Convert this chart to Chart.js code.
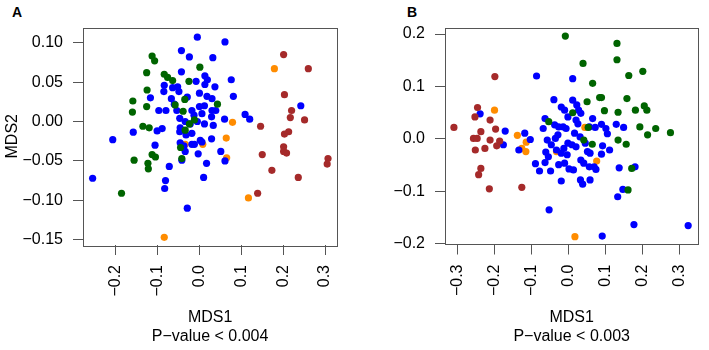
<!DOCTYPE html>
<html>
<head>
<meta charset="utf-8">
<script src="https://cdn.jsdelivr.net/npm/chart.js@4.4.1/dist/chart.umd.min.js"></script>
<style>
  body { margin: 0; background: #fff; width: 709px; height: 350px; position: relative; overflow: hidden;
         font-family: "Liberation Sans", Arial, sans-serif; }
  .panel { position: absolute; top: 0; }
  .tag { position: absolute; font-weight: bold; font-size: 14px; line-height: 14px; }
</style>
</head>
<body>
<div class="tag" style="left:12px;top:5px">A</div>
<div class="tag" style="left:407px;top:5px">B</div>
<canvas id="chartA" class="panel" style="left:0" width="355" height="350"></canvas>
<canvas id="chartB" class="panel" style="left:355px" width="354" height="350"></canvas>
<script>
// tick positions
const aTicksX = [-0.2, -0.1, 0, 0.1, 0.2, 0.3];
const aTicksY = [-0.15, -0.10, -0.05, 0, 0.05, 0.10];
const bTicksX = [-0.3, -0.2, -0.1, 0, 0.1, 0.2, 0.3];
const bTicksY = [-0.2, -0.1, 0, 0.1, 0.2];

// panel A points, [MDS1, MDS2]
const aBlue = [[-0.255,-0.072],[-0.207,-0.023],[-0.158,-0.0135],[-0.117,0.030],[-0.097,0.014],[-0.101,-0.012],
  [-0.089,-0.009],[-0.106,-0.030],[-0.072,-0.057],[-0.081,-0.075],[-0.083,-0.085],[-0.029,-0.110],[-0.005,0.107],
  [0.061,0.101],[-0.043,0.090],[-0.024,0.082],[0.032,0.081],[-0.043,0.063],[-0.084,0.046],[-0.085,0.038],
  [-0.064,0.043],[-0.052,0.044],[-0.049,0.038],[-0.067,0.029],[-0.060,0.022],[-0.080,0.014],[-0.054,0.014],
  [-0.008,0.051],[0.013,0.058],[0.019,0.053],[0.013,0.047],[0.000,0.036],[0.037,0.044],[0.018,0.032],
  [0.030,0.029],[0.076,0.053],[0.081,0.032],[-0.029,0.031],[-0.018,0.014],[0.000,0.019],[0.012,0.020],
  [-0.013,0.008],[0.006,0.010],[0.030,0.014],[0.039,0.014],[0.029,0.006],[-0.047,0.004],[-0.034,0.000],
  [-0.046,-0.008],[-0.022,-0.003],[-0.005,0.000],[0.012,-0.003],[0.033,-0.005],[-0.047,-0.013],[-0.032,-0.017],
  [-0.018,-0.015],[-0.046,-0.027],[-0.037,-0.031],[-0.018,-0.029],[-0.012,-0.029],[0.006,-0.026],[0.002,-0.024],
  [-0.034,-0.038],[-0.003,-0.041],[-0.042,-0.049],[0.029,-0.022],[0.017,-0.053],[0.010,-0.071],[0.051,-0.038],
  [0.061,-0.050],[0.060,0.003],[0.109,0.009],[0.120,0.003],[0.242,0.020]];
const aGreen = [[-0.113,0.083],[-0.107,0.077],[-0.126,0.062],[-0.125,0.040],[-0.126,0.019],[-0.159,0.026],
  [-0.160,0.012],[-0.135,-0.006],[-0.120,-0.008],[-0.084,0.060],[-0.076,0.056],[-0.064,0.052],[-0.025,0.051],
  [0.001,0.069],[-0.035,0.028],[-0.058,0.021],[-0.039,0.013],[0.043,0.022],[-0.012,0.002],[-0.024,-0.003],
  [-0.034,-0.011],[-0.045,-0.033],[-0.042,-0.047],[-0.113,-0.042],[-0.105,-0.045],[-0.156,-0.049],
  [-0.123,-0.053],[-0.122,-0.060],[-0.186,-0.091]];
const aOrange = [[0.179,0.067],[0.079,-0.001],[0.064,-0.021],[0.065,-0.046],[0.117,-0.097],[-0.084,-0.147],
  [-0.034,-0.029],[0.008,-0.029]];
const aRed = [[0.201,0.085],[0.260,0.067],[0.203,0.034],[0.220,0.014],[0.217,0.005],[0.251,0.002],[0.146,-0.006],
  [0.213,-0.013],[0.203,-0.016],[0.201,-0.032],[0.201,-0.038],[0.208,-0.040],[0.150,-0.042],[0.173,-0.062],
  [0.236,-0.071],[0.139,-0.091],[0.307,-0.047],[0.305,-0.054]];

// panel B points
const bBlue = [[-0.240,0.048],[-0.172,0.015],[-0.177,-0.011],[-0.119,0.011],[-0.104,-0.001],[-0.135,-0.021],
  [-0.087,0.120],[0.011,0.115],[-0.090,-0.047],[-0.079,-0.061],[-0.053,-0.135],[-0.040,0.075],[-0.064,0.039],
  [-0.069,0.020],[-0.058,-0.002],[-0.062,-0.025],[-0.055,-0.034],[-0.064,-0.045],[-0.049,-0.061],[-0.038,0.027],
  [-0.027,0.023],[-0.015,0.023],[-0.007,0.020],[-0.029,0.008],[-0.036,0.001],[-0.047,-0.011],[-0.033,-0.021],
  [-0.020,-0.027],[-0.027,-0.049],[-0.020,-0.080],[-0.011,0.055],[-0.020,0.061],[-0.002,0.042],[0.011,0.074],
  [0.022,0.065],[0.027,0.055],[0.033,0.049],[0.020,0.036],[0.025,0.029],[0.016,0.011],[0.031,0.004],
  [-0.002,-0.008],[-0.013,-0.018],[-0.004,-0.030],[-0.011,-0.046],[0.001,-0.057],[0.013,-0.059],[0.009,-0.011],
  [0.020,-0.015],[0.033,-0.040],[0.032,-0.078],[0.038,-0.086],[0.045,-0.008],[0.051,-0.024],[0.058,-0.027],
  [0.041,-0.046],[0.056,-0.053],[0.058,-0.078],[0.069,-0.053],[0.074,-0.058],[0.065,0.039],[0.056,0.023],
  [0.072,0.022],[0.089,0.028],[0.101,0.020],[0.105,0.010],[0.092,-0.013],[0.111,-0.021],[0.089,-0.029],
  [0.129,0.028],[0.149,0.022],[0.137,-0.055],[0.180,-0.053],[0.147,-0.096],[0.133,-0.110],[0.177,-0.163],
  [0.091,-0.185],[0.324,-0.165]];
const bGreen = [[-0.009,0.196],[0.039,0.144],[0.065,0.106],[0.050,0.071],[0.011,0.050],[-0.054,0.033],
  [0.053,0.022],[0.041,-0.002],[0.064,-0.010],[0.084,0.079],[0.089,0.079],[0.097,0.054],[0.131,0.182],
  [0.131,0.151],[0.163,0.121],[0.201,0.129],[0.158,0.077],[0.134,0.051],[0.181,0.055],[0.205,0.063],
  [0.212,0.055],[0.134,-0.002],[0.156,-0.010],[0.193,0.023],[0.214,0.008],[0.236,0.020],[0.276,0.012],
  [0.171,-0.056],[0.161,-0.097]];
const bOrange = [[-0.201,0.055],[-0.139,0.007],[-0.115,-0.006],[-0.116,-0.024],[-0.127,-0.018],[0.076,-0.042],
  [0.017,-0.186],[0.044,0.022],[-0.033,-0.024]];
const bRed = [[-0.311,0.022],[-0.200,0.119],[-0.247,0.060],[-0.254,0.042],[-0.238,0.014],[-0.258,0.001],
  [-0.248,0.001],[-0.253,-0.021],[-0.227,-0.018],[-0.213,0.036],[-0.198,0.019],[-0.213,-0.002],[-0.187,-0.004],
  [-0.195,-0.013],[-0.238,-0.056],[-0.244,-0.068],[-0.215,-0.095],[-0.127,-0.092]];

const FONT = '"Liberation Sans", Arial, sans-serif';
const AXIS = '#555';

const fmt = (v, d) => v.toFixed(d).replace('-', '\u2212');

// R-style box around the plot region
const boxPlugin = {
  id: 'box',
  afterDraw(chart) {
    const a = chart.chartArea, ctx = chart.ctx;
    ctx.save();
    ctx.strokeStyle = AXIS;
    ctx.lineWidth = 1;
    ctx.strokeRect(Math.round(a.left) + 0.5, Math.round(a.top) + 0.5,
      Math.round(a.right - a.left), Math.round(a.bottom - a.top));
    ctx.restore();
  }
};

function makeChart(id, groups, o) {
  // first dataset is drawn on top
  const datasets = groups.map(g => ({
    data: g.pts.map(p => ({ x: p[0], y: p[1] })),
    backgroundColor: g.color,
    borderWidth: 0,
    pointRadius: 3.6,
    pointHoverRadius: 3.6
  }));

  return new Chart(document.getElementById(id), {
    type: 'scatter',
    data: { datasets },
    options: {
      responsive: false,
      animation: false,
      events: [],
      layout: { padding: { top: o.top, right: o.right, left: 0, bottom: 0 } },
      plugins: { legend: { display: false }, tooltip: { enabled: false } },
      scales: {
        x: {
          type: 'linear', min: o.xMin, max: o.xMax,
          afterBuildTicks: s => { s.ticks = o.xTicks.map(v => ({ value: v })); },
          afterFit: s => { s.height = 350 - o.bottom; },
          grid: { drawOnChartArea: false, tickLength: 10, color: AXIS },
          border: { display: false },
          ticks: { autoSkip: false, minRotation: 90, maxRotation: 90, padding: 10, color: '#000',
                   font: { size: 16, family: FONT }, callback: v => fmt(v, 1) },
          title: { display: true, text: ['MDS1', o.pText], color: '#000',
                   font: { size: 16, family: FONT, lineHeight: 1.1875 }, padding: { top: 0, bottom: 4 } }
        },
        y: {
          type: 'linear', min: o.yMin, max: o.yMax,
          afterBuildTicks: s => { s.ticks = o.yTicks.map(v => ({ value: v })); },
          afterFit: s => { s.width = o.left; },
          grid: { drawOnChartArea: false, tickLength: 10, color: AXIS },
          border: { display: false },
          ticks: { autoSkip: false, padding: 10, color: '#000',
                   font: { size: 16, family: FONT }, callback: v => fmt(v, o.yDec) },
          title: { display: !!o.yTitle, text: o.yTitle || '', color: '#000',
                   font: { size: 16, family: FONT, lineHeight: 1.1875 }, padding: { top: 3, bottom: 0 } }
        }
      }
    },
    plugins: [boxPlugin]
  });
}

makeChart('chartA', [
  { pts: aRed, color: '#A52A2A' },
  { pts: aGreen, color: '#006400' },
  { pts: aBlue, color: '#0000FF' },
  { pts: aOrange, color: '#FF8C00' }
], {
  left: 83, right: 15, top: 27.5, bottom: 245,
  xMin: -0.278, xMax: 0.329, yMin: -0.1567, yMax: 0.1193,
  xTicks: aTicksX, yTicks: aTicksY, yDec: 2,
  yTitle: 'MDS2', pText: 'P\u2212value < 0.004'
});

makeChart('chartB', [
  { pts: bRed, color: '#A52A2A' },
  { pts: bGreen, color: '#006400' },
  { pts: bBlue, color: '#0000FF' },
  { pts: bOrange, color: '#FF8C00' }
], {
  left: 90, right: 6.5, top: 28.3, bottom: 244.5,
  xMin: -0.3352, xMax: 0.3515, yMin: -0.2010, yMax: 0.2109,
  xTicks: bTicksX, yTicks: bTicksY, yDec: 1,
  yTitle: null, pText: 'P\u2212value < 0.003'
});
</script>
</body>
</html>
